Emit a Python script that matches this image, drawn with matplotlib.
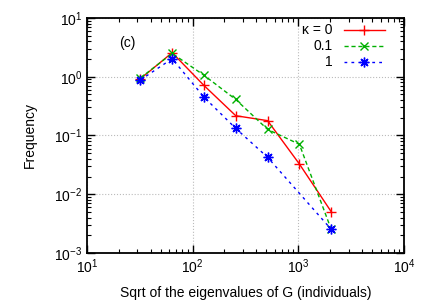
import matplotlib
matplotlib.use('Agg')
import matplotlib.pyplot as plt

plt.rcParams['font.family'] = ['Liberation Sans', 'DejaVu Sans']
plt.rcParams['mathtext.fontset'] = 'custom'
plt.rcParams['mathtext.rm'] = 'Liberation Sans'
plt.rcParams['mathtext.it'] = 'Liberation Sans:italic'

# sqrt of eigenvalues (x) and frequencies per kappa
x = [32, 64, 128, 256, 512, 1024, 2048]
freq_k0 = [0.92, 2.57, 0.71, 0.217, 0.179, 0.0327, 0.00505]
freq_k01 = [0.95, 2.5, 1.06, 0.41, 0.127, 0.0708, 0.00253]
x_k1 = [32, 64, 128, 256, 512, 2048]
freq_k1 = [0.88, 2.03, 0.45, 0.132, 0.0425, 0.00253]
labels = [u'\u03ba = 0', '0.1', '1']

styles = [
    dict(color='#ff0000', lw=1.0, ls='-', marker='+', ms=7, mew=1.0),
    dict(color='#00b000', lw=1.0, ls=(0, (3, 2)), marker='x', ms=6, mew=1.0),
    dict(color='#0000ff', lw=1.0, ls=(0, (2, 3)), marker=(8, 2, 0), ms=7, mew=1.0),
]

fig = plt.figure(figsize=(4.36, 3.05), dpi=100)
ax = fig.add_axes([0.1995, 0.1705, 0.727, 0.7705])

ax.plot(x, freq_k0, **styles[0])
ax.plot(x, freq_k01, **styles[1])
ax.plot(x_k1, freq_k1, **styles[2])

ax.set_xscale('log')
ax.set_yscale('log')
ax.set_xlim(10, 1e4)
ax.set_ylim(1e-3, 10)
ax.grid(True, which='major', color='#bbbbbb', ls=':', lw=0.8)
ax.tick_params(which='both', direction='in', top=True, right=True, labelsize=10)
ax.tick_params(which='major', length=6, width=1)
ax.tick_params(which='minor', length=3, width=0.8)
for s in ax.spines.values():
    s.set_linewidth(1.3)

ax.set_xlabel('Sqrt of the eigenvalues of G (individuals)', fontsize=10, labelpad=7)
ax.set_ylabel('Frequency', fontsize=10, labelpad=12)
ax.text(0.101, 0.894, '(c)', transform=ax.transAxes, va='center', fontsize=10)

# gnuplot-style key: right-aligned text, then line sample
for i, (lab, st) in enumerate(zip(labels, styles)):
    yy = 0.949 - i * 0.068
    ax.text(0.776, yy, lab, transform=ax.transAxes, ha='right', va='center', fontsize=10)
    ax.plot([0.811, 0.874, 0.940], [yy, yy, yy], transform=ax.transAxes,
            markevery=[1], clip_on=False, **st)

fig.savefig('out.png', dpi=100)
